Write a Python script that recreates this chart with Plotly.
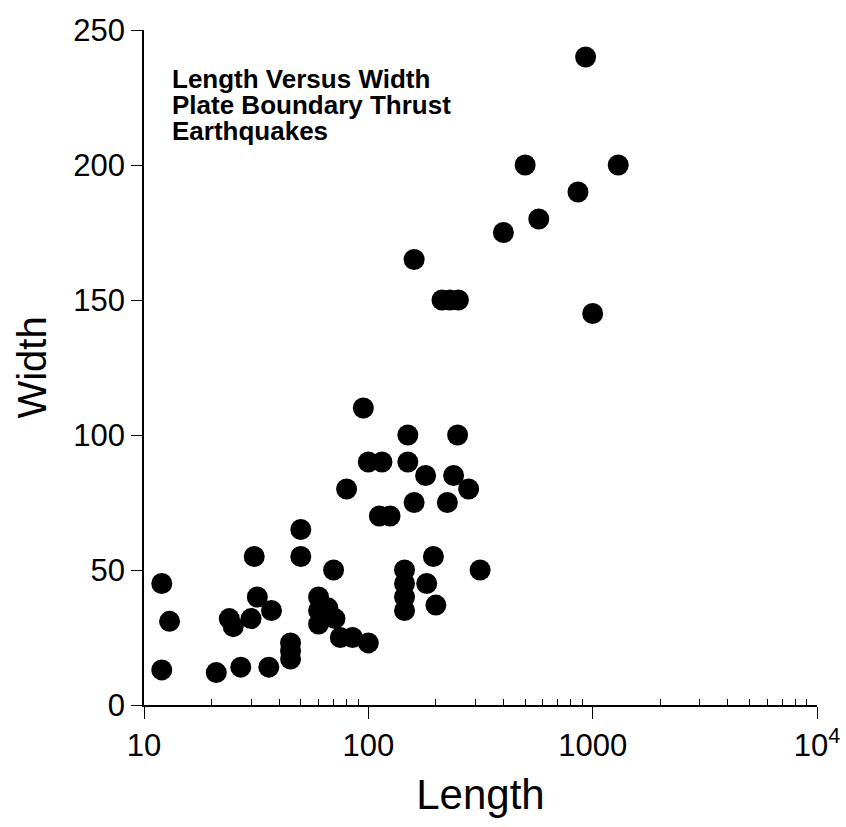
import plotly.graph_objects as go

# Data (Length, Width)
length = [12, 12, 13, 21, 24, 25, 27, 30, 31, 32, 36, 37,
          45, 45, 45, 50, 50, 60, 60, 60, 66, 71, 70,
          75, 85, 100, 80, 95, 100, 115, 112, 125,
          145, 145, 145, 145, 150, 150, 160, 180, 182, 195, 200,
          225, 240, 250, 280, 315,
          160, 213, 231, 252, 400, 500, 575, 860, 930, 1000, 1300]
width = [45, 13, 31, 12, 32, 29, 14, 32, 55, 40, 14, 35,
         23, 20, 17, 65, 55, 40, 35, 30, 36, 32, 50,
         25, 25, 23, 80, 110, 90, 90, 70, 70,
         50, 45, 40, 35, 100, 90, 75, 85, 45, 55, 37,
         75, 85, 100, 80, 50,
         165, 150, 150, 150, 175, 200, 180, 190, 240, 145, 200]

x_tickvals = [10, 100, 1000, 10000]
x_ticktext = ["10", "100", "1000", "10<sup>4</sup>"]
x_minor = [m * d for d in (10, 100, 1000) for m in range(2, 10)]
y_tickvals = [0, 50, 100, 150, 200, 250]

title_lines = ["Length Versus Width", "Plate Boundary Thrust", "Earthquakes"]

FONT = "Liberation Sans, Arial, Helvetica, sans-serif"

fig = go.Figure()
fig.add_trace(go.Scatter(
    x=length, y=width, mode="markers",
    marker=dict(color="black", size=21, line=dict(width=0)),
    showlegend=False, cliponaxis=False,
))

for i, line in enumerate(title_lines):
    fig.add_annotation(
        x=0.039, xref="paper", y=0.927 - i * 0.0385, yref="paper",
        text="<b>%s</b>" % line, showarrow=False,
        xanchor="left", yanchor="middle",
        font=dict(family=FONT, size=26, color="black"),
    )

fig.update_layout(
    width=846, height=827,
    margin=dict(l=144, r=29, t=30, b=122),
    paper_bgcolor="white", plot_bgcolor="white",
    font=dict(family=FONT, color="black"),
    xaxis=dict(
        type="log", range=[1, 4],
        tickmode="array", tickvals=x_tickvals, ticktext=x_ticktext,
        ticklabeloverflow="allow",
        ticks="outside", ticklen=12, tickwidth=1.3, tickcolor="black",
        minor=dict(tickmode="array", tickvals=x_minor, ticks="inside",
                   ticklen=6, tickwidth=1.3, tickcolor="black", showgrid=False),
        showline=True, linecolor="black", linewidth=1.5,
        showgrid=False, zeroline=False, automargin=False,
        tickfont=dict(family=FONT, size=31, color="black"),
        title=dict(text="Length", font=dict(family=FONT, size=42, color="black"),
                   standoff=18),
    ),
    yaxis=dict(
        range=[0, 250],
        tickmode="array", tickvals=y_tickvals,
        ticklabeloverflow="allow",
        ticks="outside", ticklen=11, tickwidth=1.3, tickcolor="black",
        showline=True, linecolor="black", linewidth=1.5,
        showgrid=False, zeroline=False, automargin=False,
        tickfont=dict(family=FONT, size=31, color="black"),
        title=dict(text="Width", font=dict(family=FONT, size=40, color="black"),
                   standoff=14),
    ),
)

# Remove the default 8px page margin so the figure fills the window exactly.
fig.write_html("out.html",
               config={"displayModeBar": False},
               post_script="document.body.style.margin='0';document.body.style.overflow='hidden';")
